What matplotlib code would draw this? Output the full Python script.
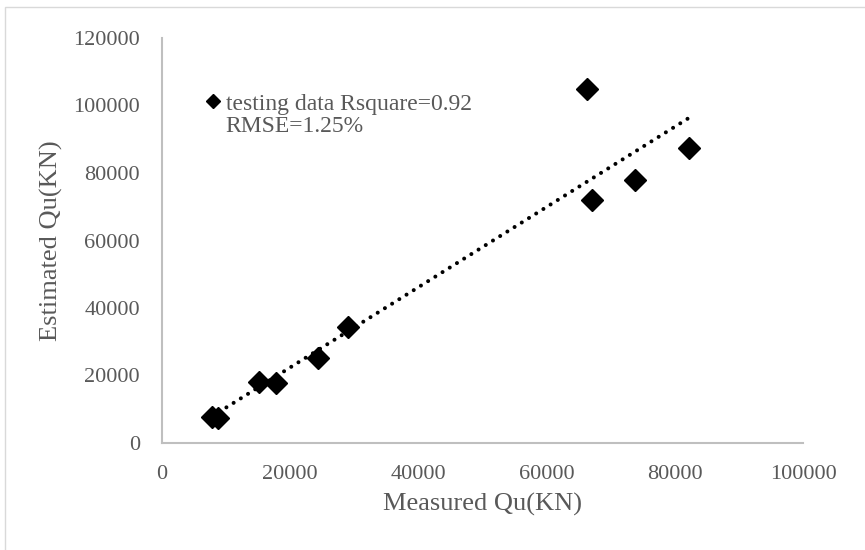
import numpy as np
import matplotlib.pyplot as plt
from matplotlib.lines import Line2D
from matplotlib.patches import Rectangle

plt.rcParams['font.family'] = ['Liberation Serif', 'DejaVu Serif']

# измеренные и оценённые значения Qu (кН)
measured = [7800, 8800, 15200, 17800, 24400, 28950, 66300, 67100, 73800, 82200]
estimated = [7600, 7300, 18000, 17700, 25100, 34300, 105000, 72100, 78000, 87400]
x_ticks = [0, 20000, 40000, 60000, 80000, 100000]
y_ticks = [0, 20000, 40000, 60000, 80000, 100000, 120000]

gray = '#595959'

fig = plt.figure(figsize=(8.65, 5.5), dpi=100)
ax = fig.add_axes([162 / 865, 1 - 443 / 550, 641 / 865, 405 / 550])

# рамка области диаграммы как в Excel
fig.patches.append(Rectangle((5 / 865, -0.1), 1.2, 1 - 7 / 550 + 0.1,
                             transform=fig.transFigure, fill=False,
                             edgecolor='#D9D9D9', linewidth=1))

pts, = ax.plot(measured, estimated, linestyle='none', marker='D',
               markersize=11.5, color='black')

# линейный тренд
k, b = np.polyfit(measured, estimated, 1)
xs = np.array([min(measured), max(measured)])
ax.plot(xs, k * xs + b, color='black', linewidth=2.9,
        linestyle=(0, (0.01, 2.1)), dash_capstyle='round')

ax.set_xlim(0, 100000)
ax.set_ylim(0, 120000)
ax.set_xticks(x_ticks)
ax.set_yticks(y_ticks)
ax.tick_params(length=0, labelsize=16, labelcolor=gray, pad=16)
for s in ['top', 'right']:
    ax.spines[s].set_visible(False)
for s in ['left', 'bottom']:
    ax.spines[s].set_color('#BFBFBF')
    ax.spines[s].set_linewidth(1.5)

ax.set_xlabel('Measured Qu(KN)', fontsize=19, color=gray, labelpad=6)
ax.set_ylabel('Estimated Qu(KN)', fontsize=19, color=gray, labelpad=7)

# легенда: маркер у первой строки, вторая строка без маркера
blank = Line2D([], [], linestyle='none')
ax.legend([pts, blank], ['testing data Rsquare=0.92', 'RMSE=1.25%'],
          loc='upper left', bbox_to_anchor=(0.07, 0.864), frameon=False,
          fontsize=17, handlelength=0.55, handletextpad=0.25, borderpad=0,
          borderaxespad=0, labelspacing=0.02, markerscale=0.62,
          labelcolor=gray)

fig.savefig('out.png', dpi=100)
